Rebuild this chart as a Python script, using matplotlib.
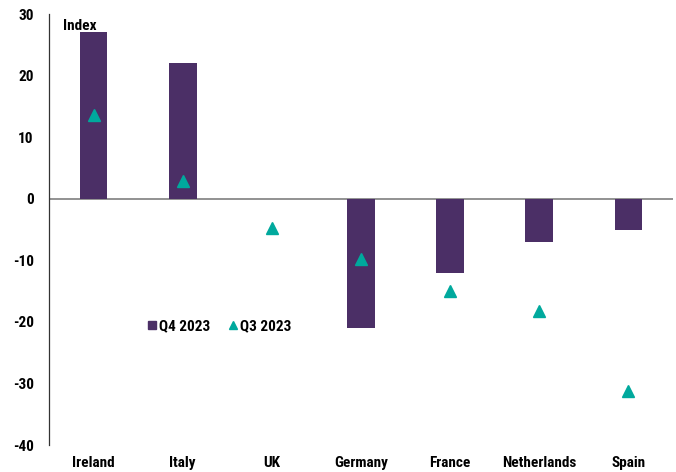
import matplotlib
matplotlib.use("Agg")
import matplotlib.pyplot as plt
from matplotlib.lines import Line2D
from matplotlib import font_manager

categories = ["Ireland", "Italy", "UK", "Germany", "France", "Netherlands", "Spain"]
q4_2023 = [27, 22, 0, -21, -12, -7, -5]
q3_2023 = [13.6, 2.8, -4.7, -9.8, -15, -18.2, -31.3]
yticks = [30, 20, 10, 0, -10, -20, -30, -40]

bar_color = "#4B2F66"
tri_color = "#00A99D"

names = {f.name for f in font_manager.fontManager.ttflist}
fam = []
for cand in ["Liberation Sans Narrow", "Roboto Condensed", "Open Sans Condensed", "DejaVu Sans Condensed"]:
    if cand in names:
        fam.append(cand)
        break
fam += ["Liberation Sans", "DejaVu Sans"]
narrow = fam[0] != "Liberation Sans"
fs = 11 if narrow else 10
plt.rcParams["font.family"] = fam

fig = plt.figure(figsize=(6.76, 4.72), dpi=100)
ax = fig.add_axes([0.0725, 0.0572, 0.9231, 0.9131])

x = list(range(len(categories)))
ax.bar(x, q4_2023, width=0.31, color=bar_color, linewidth=0, zorder=2)
ax.plot(x, q3_2023, linestyle="none", marker="^", markersize=9, color=tri_color, zorder=3)

ax.set_xlim(-0.5, len(categories) - 0.5)
ax.set_ylim(-40, 30)
ax.set_yticks(yticks)
ax.set_yticklabels([str(t) for t in yticks], fontsize=fs, fontweight="bold")
ax.set_xticks(x)
ax.set_xticklabels(categories, fontsize=fs, fontweight="bold")
ax.tick_params(axis="both", length=0)
ax.tick_params(axis="y", pad=11)
ax.tick_params(axis="x", pad=8)

for s in ["top", "right", "bottom"]:
    ax.spines[s].set_visible(False)
ax.spines["left"].set_color("#333333")
ax.spines["left"].set_linewidth(0.9)
ax.axhline(0, color="#7F7F7F", linewidth=1.2, zorder=1)

ax.text(0.022, 0.988, "Index", transform=ax.transAxes, fontsize=fs, fontweight="bold", va="top", ha="left")

handles = [
    Line2D([], [], linestyle="none", marker="s", markersize=6, color=bar_color, label="Q4 2023"),
    Line2D([], [], linestyle="none", marker="^", markersize=6, color=tri_color, label="Q3 2023"),
]
leg = ax.legend(handles=handles, loc="center left", bbox_to_anchor=(0.13, 0.275), ncol=2, frameon=False,
                handletextpad=0.0, columnspacing=0.95, handlelength=1.0,
                prop={"family": fam, "weight": "bold", "size": fs})

fig.savefig("out.png", dpi=100)
